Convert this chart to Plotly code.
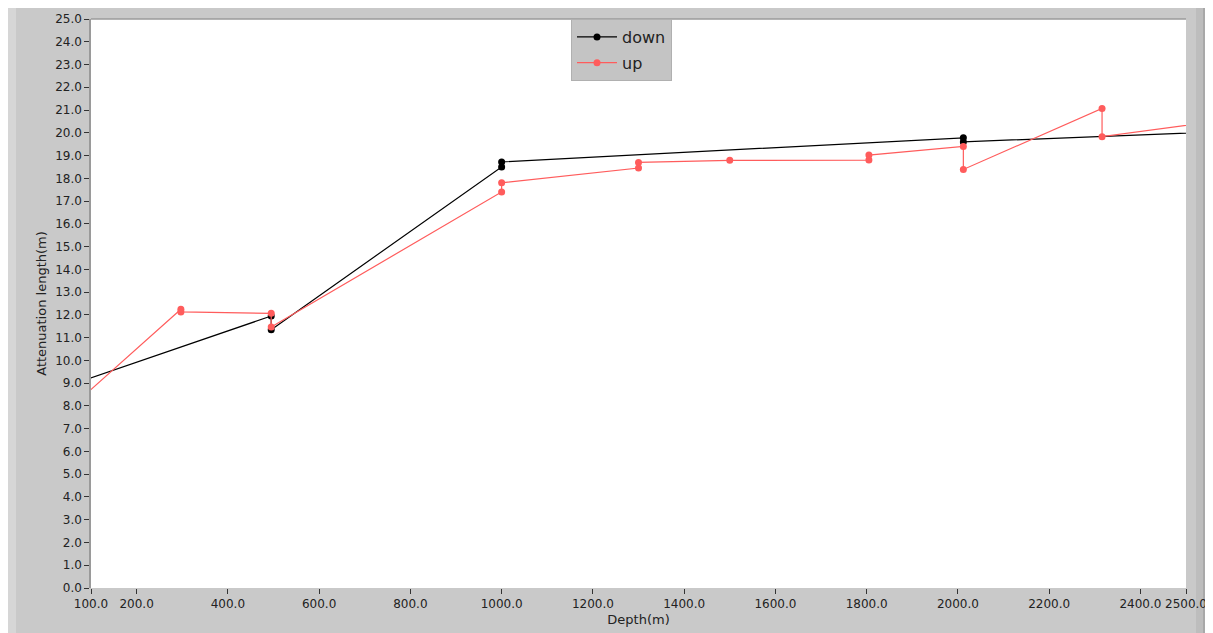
import plotly.graph_objects as go

# ---- data ----
down_depth = [0, 495, 495, 1000, 1000, 2012, 2012, 2600]
down_len = [8.54, 11.95, 11.35, 18.5, 18.72, 19.78, 19.6, 20.07]

up_depth = [0, 297, 297, 495, 495, 1000, 1000, 1300, 1300, 1500, 1805, 1805,
            2012, 2012, 2316, 2316, 2600]
up_len = [6.93, 12.25, 12.13, 12.07, 11.47, 17.4, 17.8, 18.45, 18.7, 18.79,
          18.8, 19.02, 19.4, 18.39, 21.07, 19.83, 20.59]

x_ticks = [100, 200, 400, 600, 800, 1000, 1200, 1400, 1600, 1800, 2000, 2200, 2400, 2500]
y_ticks = list(range(0, 26))

OFF = 8  # page body margin
W, H = 1213 - OFF, 633 - OFF
L, R, T, B = 91 - OFF, 27, 19 - OFF, 45
pw, ph = W - L - R, H - T - B


def px(p):  # page pixel -> paper x
    return (p - OFF - L) / pw


def py(p):  # page pixel -> paper y
    return (H - B - (p - OFF)) / ph


fig = go.Figure()
fig.add_trace(go.Scatter(x=down_depth, y=down_len, name="down", mode="lines+markers",
                         legendgroup="a",
                         line=dict(color="#000000", width=1.2),
                         marker=dict(color="#000000", size=7)))
fig.add_trace(go.Scatter(x=up_depth, y=up_len, name="up", mode="lines+markers",
                         legendgroup="b",
                         line=dict(color="#ff5c5c", width=1.2),
                         marker=dict(color="#ff5c5c", size=7)))

font = "DejaVu Sans"
shapes = [
    dict(type="rect", xref="paper", yref="paper", x0=px(OFF), x1=px(16), y0=py(633), y1=py(OFF),
         fillcolor="#d6d6d6", line_width=0, layer="below"),
    dict(type="rect", xref="paper", yref="paper", x0=px(1196), x1=px(1203), y0=py(633), y1=py(OFF),
         fillcolor="#bdbdbd", line_width=0, layer="below"),
    dict(type="rect", xref="paper", yref="paper", x0=px(1203), x1=px(1208), y0=py(633), y1=py(OFF),
         fillcolor="#a8a8a8", line_width=0, layer="below"),
    dict(type="rect", xref="paper", yref="paper", x0=px(1208), x1=px(1213), y0=py(633), y1=py(OFF),
         fillcolor="#707070", line_width=0, layer="below"),
    dict(type="line", xref="paper", yref="paper", x0=0, x1=1, y0=1, y1=1,
         line=dict(color="#9a9a9a", width=1.5)),
]

fig.update_layout(
    width=W, height=H,
    margin=dict(l=L, r=R, t=T, b=B, autoexpand=False),
    paper_bgcolor="#c9c9c9",
    plot_bgcolor="#ffffff",
    font=dict(family=font, size=12, color="#222222"),
    showlegend=True,
    legend=dict(x=px(571), y=1.0, xanchor="left", yanchor="top",
                bgcolor="#c4c4c4", bordercolor="#b0b0b0", borderwidth=1,
                font=dict(family=font, size=16, color="#222222"),
                tracegroupgap=2, itemwidth=40),
    shapes=shapes,
)
fig.update_xaxes(range=[100, 2500], tickvals=x_ticks,
                 ticktext=[f"{v:.1f}" for v in x_ticks],
                 ticks="outside", ticklen=5, tickcolor="#333333",
                 showgrid=False, zeroline=False, showline=False, automargin=False,
                 title=dict(text="Depth(m)", standoff=4, font=dict(size=13)))
fig.update_yaxes(range=[0, 25], tickvals=y_ticks,
                 ticktext=[f"{v:.1f}" for v in y_ticks],
                 ticks="outside", ticklen=5, tickcolor="#333333",
                 showgrid=False, zeroline=False, automargin=False,
                 showline=True, linecolor="#9a9a9a", linewidth=1.5,
                 title=dict(text="Attenuation length(m)", standoff=6, font=dict(size=13)))

fig.write_html("out.html")
